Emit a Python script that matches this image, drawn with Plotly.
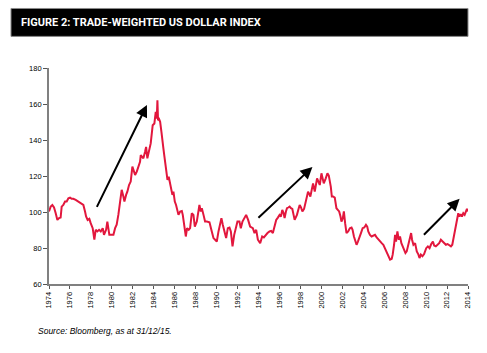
import plotly.graph_objects as go

title_text = "FIGURE 2: TRADE-WEIGHTED US DOLLAR INDEX"
source_text = "Source: Bloomberg, as at 31/12/15."

years = [
    1974.00, 1974.16, 1974.32, 1974.48, 1974.64, 1974.80, 1974.96, 1975.11, 1975.21, 1975.37,
    1975.53, 1975.69, 1975.85, 1976.01, 1976.17, 1976.32, 1976.55, 1976.80, 1977.12, 1977.28,
    1977.44, 1977.54, 1977.69, 1977.85, 1977.98, 1978.17, 1978.33, 1978.46, 1978.62, 1978.78,
    1978.94, 1979.13, 1979.25, 1979.45, 1979.57, 1979.76, 1979.99, 1980.15, 1980.31, 1980.46,
    1980.62, 1980.78, 1980.94, 1981.10, 1981.20, 1981.36, 1981.48, 1981.64, 1981.80, 1981.96,
    1982.06, 1982.22, 1982.38, 1982.54, 1982.69, 1982.76, 1982.89, 1983.01, 1983.17, 1983.27,
    1983.39, 1983.59, 1983.71, 1983.90, 1984.06, 1984.19, 1984.29, 1984.35, 1984.41, 1984.51,
    1984.61, 1984.73, 1984.80, 1984.92, 1985.02, 1985.11, 1985.18, 1985.31, 1985.43, 1985.56,
    1985.69, 1985.78, 1985.88, 1986.01, 1986.13, 1986.26, 1986.36, 1986.52, 1986.68, 1986.77,
    1986.90, 1987.06, 1987.18, 1987.34, 1987.47, 1987.63, 1987.79, 1987.92, 1988.11, 1988.27,
    1988.36, 1988.49, 1988.59, 1988.75, 1988.90, 1989.06, 1989.32, 1989.54, 1989.70, 1989.86,
    1990.02, 1990.18, 1990.34, 1990.46, 1990.59, 1990.75, 1990.91, 1991.07, 1991.23, 1991.36,
    1991.52, 1991.68, 1991.83, 1991.99, 1992.18, 1992.31, 1992.47, 1992.63, 1992.82, 1993.01,
    1993.14, 1993.20, 1993.46, 1993.62, 1993.78, 1993.94, 1994.16, 1994.35, 1994.51, 1994.67,
    1994.86, 1995.05, 1995.21, 1995.37, 1995.53, 1995.69, 1995.85, 1996.01, 1996.14, 1996.27,
    1996.40, 1996.49, 1996.62, 1996.72, 1996.84, 1996.97, 1997.10, 1997.23, 1997.35, 1997.45,
    1997.55, 1997.67, 1997.80, 1997.93, 1998.06, 1998.19, 1998.35, 1998.50, 1998.63, 1998.73,
    1998.86, 1998.95, 1999.08, 1999.21, 1999.37, 1999.50, 1999.59, 1999.72, 1999.85, 2000.01,
    2000.13, 2000.23, 2000.42, 2000.58, 2000.71, 2000.81, 2000.90, 2001.00, 2001.12, 2001.28,
    2001.44, 2001.57, 2001.70, 2001.83, 2001.92, 2002.05, 2002.15, 2002.27, 2002.40, 2002.56,
    2002.72, 2002.88, 2002.98, 2003.11, 2003.23, 2003.36, 2003.49, 2003.62, 2003.78, 2003.94,
    2004.10, 2004.26, 2004.38, 2004.48, 2004.64, 2004.80, 2004.96, 2005.12, 2005.28, 2005.44,
    2005.60, 2005.76, 2005.92, 2006.08, 2006.24, 2006.40, 2006.56, 2006.72, 2006.81, 2006.94,
    2007.04, 2007.13, 2007.26, 2007.39, 2007.51, 2007.64, 2007.77, 2007.90, 2008.03, 2008.15,
    2008.31, 2008.47, 2008.57, 2008.66, 2008.79, 2008.95, 2009.11, 2009.27, 2009.37, 2009.50,
    2009.65, 2009.81, 2010.01, 2010.17, 2010.33, 2010.49, 2010.65, 2010.77, 2010.93, 2011.09,
    2011.25, 2011.41, 2011.57, 2011.73, 2011.89, 2012.05, 2012.21, 2012.37, 2012.50, 2012.59,
    2012.69, 2012.79, 2012.88, 2012.98, 2013.07, 2013.17, 2013.30, 2013.42, 2013.55, 2013.68,
    2013.81, 2013.90, 2014.00,
]

index_values = [
    100.3, 103.0, 103.9, 102.5, 99.3, 95.6, 96.6, 96.9, 103.0, 103.9,
    105.8, 105.8, 107.6, 108.0, 107.3, 107.3, 106.7, 105.8, 104.9, 103.9,
    100.3, 97.5, 95.6, 96.2, 93.8, 91.0, 84.6, 90.1, 89.2, 90.1,
    89.2, 91.0, 87.3, 90.1, 94.7, 87.3, 87.3, 87.3, 91.0, 92.9,
    98.4, 105.8, 112.3, 108.6, 105.8, 109.5, 111.3, 115.0, 116.9, 125.2,
    123.3, 120.6, 122.4, 126.1, 127.9, 131.6, 130.7, 129.8, 133.5, 136.2,
    129.8, 134.4, 138.1, 148.2, 149.2, 155.6, 151.9, 162.1, 151.0, 151.6,
    150.1, 144.6, 139.9, 135.3, 130.7, 126.1, 123.3, 117.8, 119.6, 115.9,
    113.2, 109.5, 111.3, 105.8, 103.9, 100.3, 98.4, 100.3, 100.6, 98.4,
    92.9, 86.4, 91.0, 90.1, 91.0, 99.3, 98.4, 91.9, 94.7, 99.3,
    103.9, 100.3, 102.1, 98.4, 94.7, 94.7, 94.3, 89.2, 85.5, 84.6,
    83.6, 89.2, 94.7, 96.6, 92.9, 89.2, 85.5, 91.0, 91.4, 89.2,
    80.9, 87.3, 91.9, 94.7, 94.7, 91.0, 94.7, 96.6, 98.4, 95.6,
    93.8, 91.9, 91.0, 88.3, 90.1, 84.6, 82.7, 86.4, 85.9, 87.3,
    88.3, 89.2, 89.5, 88.3, 91.9, 95.6, 96.9, 98.4, 97.5, 101.2,
    99.3, 96.6, 100.3, 102.1, 102.5, 103.0, 102.1, 101.7, 98.4, 95.6,
    96.9, 98.4, 101.2, 103.9, 102.5, 100.3, 101.7, 105.8, 108.6, 111.3,
    109.9, 108.6, 112.3, 115.9, 111.3, 115.9, 118.7, 116.9, 115.0, 121.5,
    117.8, 115.9, 118.7, 121.5, 120.2, 117.8, 114.1, 108.6, 108.6, 108.0,
    102.1, 101.2, 100.3, 97.5, 94.7, 96.6, 100.3, 93.8, 88.3, 89.2,
    91.0, 91.4, 90.1, 86.4, 84.6, 81.8, 83.6, 86.4, 88.3, 91.0,
    91.4, 92.9, 91.9, 89.2, 87.3, 86.4, 86.8, 87.3, 85.9, 84.6,
    83.6, 82.7, 81.8, 79.9, 77.7, 75.3, 73.5, 74.0, 76.3, 81.8,
    87.3, 83.6, 89.2, 84.6, 86.4, 82.7, 80.9, 79.0, 77.2, 78.1,
    81.8, 85.5, 88.3, 84.6, 81.8, 82.7, 78.1, 76.3, 74.4, 76.3,
    75.4, 76.6, 79.9, 80.9, 79.9, 82.2, 83.6, 81.4, 80.9, 81.8,
    82.7, 84.6, 83.6, 82.7, 81.8, 82.2, 81.4, 80.9, 81.8, 84.6,
    87.3, 89.2, 92.9, 95.6, 99.3, 97.5, 98.8, 97.5, 99.3, 98.4,
    100.6, 101.7, 100.3,
]

x_ticks = list(range(1974, 2015, 2))
x_tick_labels = [str(y) for y in x_ticks]
y_ticks = [60, 80, 100, 120, 140, 160, 180]
y_tick_labels = [str(v) for v in y_ticks]

# arrows: (tail_year, tail_value, head_year, head_value)
arrow_tails_x = [1978.5, 1993.85, 2009.65]
arrow_tails_y = [102.0, 96.0, 86.5]
arrow_heads_x = [1983.35, 1999.15, 2013.2]
arrow_heads_y = [159.5, 125.0, 107.3]

fig = go.Figure()
fig.add_trace(go.Scatter(
    x=years, y=index_values, mode="lines",
    line=dict(color="#E2173D", width=2),
    showlegend=False, hoverinfo="skip",
))

for tx, ty, hx, hy in zip(arrow_tails_x, arrow_tails_y, arrow_heads_x, arrow_heads_y):
    fig.add_annotation(
        x=hx, y=hy, ax=tx, ay=ty, xref="x", yref="y", axref="x", ayref="y",
        showarrow=True, arrowhead=2, arrowsize=1.2, arrowwidth=2, arrowcolor="#000000",
        text="",
    )

# title bar
fig.add_shape(type="rect", xref="paper", yref="paper",
              x0=-0.0907, x1=1.0, y0=1.1463, y1=1.2756,
              fillcolor="#000000", line=dict(color="#8a8a8a", width=1), layer="above")
fig.add_annotation(
    x=-0.0716, y=1.211, xref="paper", yref="paper", xanchor="left", yanchor="middle",
    text="<b>" + title_text + "</b>", showarrow=False,
    font=dict(family="Liberation Sans Narrow, Roboto, sans-serif", size=11, color="#ffffff"),
)
fig.add_annotation(
    x=-0.031, y=-0.218, xref="paper", yref="paper", xanchor="left", yanchor="middle",
    text="<i>" + source_text + "</i>", showarrow=False,
    font=dict(family="Liberation Sans, Arial, sans-serif", size=8.5, color="#000000"),
)

axis_font = dict(family="Liberation Sans, Arial, sans-serif", size=7.5, color="#000000")
fig.update_xaxes(
    range=[1974, 2014], tickmode="array", tickvals=x_ticks, ticktext=x_tick_labels,
    tickangle=-90, ticks="outside", ticklen=3, tickwidth=1.2, tickcolor="#555555",
    showline=True, linecolor="#808080", linewidth=1.8, showgrid=False, zeroline=False,
    tickfont=axis_font,
)
fig.update_yaxes(
    range=[60, 180], tickmode="array", tickvals=y_ticks, ticktext=y_tick_labels,
    ticks="outside", ticklen=4, tickwidth=1, tickcolor="#555555",
    showline=True, linecolor="#808080", linewidth=1.8, showgrid=False, zeroline=False,
    tickfont=axis_font,
)
fig.update_layout(
    width=487, height=353,
    margin=dict(l=49, r=19, t=68, b=69, autoexpand=False),
    paper_bgcolor="#ffffff", plot_bgcolor="#ffffff",
)
fig.write_html("out.html")
